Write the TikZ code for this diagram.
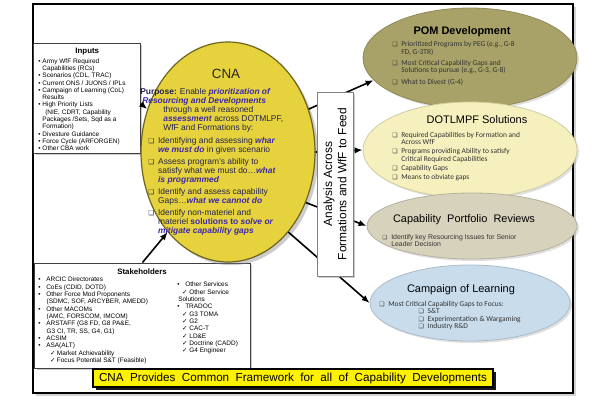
\documentclass[tikz,border=0pt]{standalone}
\usepackage{fontspec}
\setmainfont{Liberation Sans}
\newfontfamily\calfont{Carlito}
\newfontfamily\symfont{DejaVu Sans}
\usepackage{xcolor}
\usepackage{graphicx}
\usetikzlibrary{shapes.geometric, arrows.meta, positioning, shadows}

\definecolor{cnayellow}{RGB}{230,210,60}
\definecolor{cnaedge}{RGB}{110,100,30}
\definecolor{cnatext}{RGB}{35,35,80}
\definecolor{empblue}{RGB}{60,40,170}
\definecolor{pomolive}{RGB}{168,162,104}
\definecolor{dotpale}{RGB}{245,240,190}
\definecolor{cprbeige}{RGB}{215,210,188}
\definecolor{colblue}{RGB}{200,220,236}

\newcommand{\qb}{{\symfont\scalebox{0.8}{\char"2751}}}
\newcommand{\ck}{{\symfont\char"2713}}
\newcommand{\bul}{\makebox[3pt][l]{\textbullet}}
\newcommand{\sbul}{\makebox[5.7pt][l]{\textbullet}}
\newcommand{\emp}[1]{\textcolor{empblue}{\textbf{\textit{#1}}}}

\begin{document}
\begin{tikzpicture}[
    x=0.25mm, y=-0.25mm,
    outline/.style={draw=black, line width=0.5mm, fill=white, drop shadow={shadow xshift=0.7mm, shadow yshift=-0.7mm, opacity=0.35}},
    infobox/.style={rectangle, draw=black!75, fill=white, line width=0.25mm, inner sep=0pt, drop shadow={shadow xshift=0.6mm, shadow yshift=-0.6mm, opacity=0.4}},
    listtext/.style={inner sep=0pt, align=left, font=\fontsize{4.6}{5.2}\selectfont},
    cnaoval/.style={ellipse, draw=cnaedge, line width=0.3mm, fill=cnayellow, inner sep=0pt, minimum width=43.5mm, minimum height=55mm, drop shadow={shadow xshift=0.8mm, shadow yshift=-0.8mm, opacity=0.4}},
    feedoval/.style={ellipse, draw=#1!85!black, line width=0.2mm, fill=#1, inner sep=0pt, drop shadow={shadow xshift=0.5mm, shadow yshift=-0.5mm, opacity=0.25}},
    ovaltitle/.style={inner sep=0pt, font=\fontsize{7.8}{8}\selectfont},
    ovaltext/.style={inner sep=0pt, align=left, text=black!80, font=\calfont\fontsize{5.3}{5.2}\selectfont},
    link/.style={draw=black, line width=0.4mm, -{Latex[length=2mm, width=1.6mm]}},
    banner/.style={rectangle, draw=black, line width=0.3mm, fill=yellow, inner sep=0pt, minimum width=100mm, minimum height=4.5mm, font=\fontsize{8.3}{9}\selectfont, drop shadow={shadow xshift=0.8mm, shadow yshift=-0.8mm, opacity=0.9, fill=black}}
]
    \useasboundingbox (0,0) rectangle (600,400);

    % Outer frame
    \draw [outline] (33,4) rectangle (573,393);

    % Left: Inputs
    \node [infobox, minimum width=26.5mm, minimum height=27.5mm] (inputs) at (87,98) {};
    \node [listtext, anchor=north west] (inputlist) at (38,48) {\makebox[24.5mm]{\fontsize{5.6}{6}\selectfont\textbf{Inputs}}\\[1.5pt]
        \bul Army WfF Required\\
        \hspace*{3pt}Capabilities (RCs)\\
        \bul Scenarios (CDL, TRAC)\\
        \bul Current  ONS / JUONS / IPLs\\
        \bul Campaign of Learning (CoL)\\
        \hspace*{3pt}Results\\
        \bul High Priority Lists\\
        \hspace*{5pt}(NIE, CDRT, Capability\\
        \hspace*{3pt}Packages /Sets, Sqd as a\\
        \hspace*{3pt}Formation)\\
        \bul Divesture Guidance\\
        \bul Force Cycle (ARFORGEN)\\
        \bul Other CBA work};

    % Left: Stakeholders
    \node [infobox, minimum width=53.75mm, minimum height=26.25mm] (stake) at (142.5,315.5) {};
    \node [font=\fontsize{5.6}{6}\selectfont\bfseries, inner sep=0pt] (staketitle) at (142,272) {Stakeholders};
    \node [listtext, anchor=north west] (stakeleft) at (38,277) {\sbul ARCIC Directorates\\
        \sbul CoEs (CDID, DOTD)\\
        \sbul Other Force Mod Proponents\\
        \hspace*{6pt}(SDMC, SOF, ARCYBER, AMEDD)\\
        \sbul Other MACOMs\\
        \hspace*{6pt}(AMC, FORSCOM, IMCOM)\\
        \sbul ARSTAFF (G8 FD, G8 PA\&E,\\
        \hspace*{6pt}G3 CI, TR, SS, G4, G1)\\
        \sbul ACSIM\\
        \sbul ASA(ALT)\\
        \hspace*{8.5pt}\makebox[3.5pt][l]{\ck}\ Market Achievability\\
        \hspace*{8.5pt}\makebox[3.5pt][l]{\ck}\ Focus Potential S\&T (Feasible)};
    \node [listtext, anchor=north west] (stakeright) at (177,282) {\sbul Other Services\\
        \hspace*{3.5pt}\ck\ Other Service\\
        \hspace*{0.7pt}Solutions\\
        \sbul TRADOC\\
        \hspace*{3.5pt}\ck\ G3 TOMA\\
        \hspace*{3.5pt}\ck\ G2\\
        \hspace*{3.5pt}\ck\ CAC-T\\
        \hspace*{3.5pt}\ck\ LD\&E\\
        \hspace*{3.5pt}\ck\ Doctrine (CADD)\\
        \hspace*{3.5pt}\ck\ G4 Engineer};

    % Central CNA
    \node [cnaoval] (cna) at (228,152) {};
    \node [font=\fontsize{9.5}{10}\selectfont, inner sep=0pt, text=black!85] (cnatitle) at (226,74) {CNA};
    \node [inner sep=0pt, anchor=north west, align=left, text=cnatext, font=\fontsize{6}{6.4}\selectfont] (cnabody) at (140,88) {%
        \textbf{Purpose:} Enable \emp{prioritization of}\\
        \hspace*{1.4pt}\emp{Resourcing and Developments}\\
        \hspace*{16.4pt}through a well reasoned\\
        \hspace*{16.4pt}\emp{assessment} across DOTMLPF,\\
        \hspace*{16.4pt}WfF and Formations by:\\[3pt]
        \hspace*{5.7pt}\makebox[7pt][l]{\qb}Identifying and assessing \emp{whar}\\
        \hspace*{12.7pt}\emp{we must do} in given scenario\\[2pt]
        \hspace*{5.7pt}\makebox[7pt][l]{\qb}Assess program's ability to\\
        \hspace*{12.7pt}satisfy what we must do\ldots\emp{what}\\
        \hspace*{12.7pt}\emp{is programmed}\\[2pt]
        \hspace*{5.7pt}\makebox[7pt][l]{\qb}Identify and assess capability\\
        \hspace*{12.7pt}Gaps\ldots\emp{what we cannot do}\\[2pt]
        \hspace*{5.7pt}\makebox[7pt][l]{\qb}Identify non-materiel and\\
        \hspace*{12.7pt}materiel \textcolor{empblue}{\textbf{solutions to \textit{solve or}}}\\
        \hspace*{12.7pt}\emp{mitigate capability gaps}};

    % Right: fed products
    \node [feedoval=pomolive, minimum width=53.5mm, minimum height=25mm] (pom) at (470,58) {};
    \node [feedoval=dotpale, minimum width=53.5mm, minimum height=24mm] (dot) at (470,150) {};
    \node [feedoval=cprbeige, minimum width=52.5mm, minimum height=16.5mm] (cpr) at (472,226) {};
    \node [feedoval=colblue, minimum width=50mm, minimum height=19mm] (col) at (470,303) {};

    \node [ovaltitle, font=\fontsize{7.8}{8}\selectfont\bfseries] (pomtitle) at (462,32) {POM Development};
    \node [ovaltext, anchor=north west] (pomlist) at (392,41) {%
        \makebox[6.4pt][l]{\qb}Prioritized Programs by PEG  (e.g., G-8\\
        \hspace*{6.4pt}FD,  G-3TR)\\[3pt]
        \makebox[6.4pt][l]{\qb}Most Critical Capability Gaps and\\
        \hspace*{6.4pt}Solutions to pursue (e.g., G-3, G-8)\\[3pt]
        \makebox[6.4pt][l]{\qb}What to Divest (G-4)};

    \node [ovaltitle] (dottitle) at (477,120) {DOTLMPF Solutions};
    \node [ovaltext, anchor=north west] (dotlist) at (392,132) {%
        \makebox[6.4pt][l]{\qb}Required Capabilities by Formation and\\
        \hspace*{6.4pt}Across WfF\\[1.2pt]
        \makebox[6.4pt][l]{\qb}Programs providing Ability to satisfy\\
        \hspace*{6.4pt}Critical Required Capabilities\\[1.2pt]
        \makebox[6.4pt][l]{\qb}Capability Gaps\\[1.2pt]
        \makebox[6.4pt][l]{\qb}Means to obviate gaps};

    \node [ovaltitle] (cprtitle) at (464,220) {Capability\ \ Portfolio\ \ Reviews};
    \node [ovaltext, font=\fontsize{4.9}{4.8}\selectfont, anchor=north west] (cprlist) at (382,234) {%
        \makebox[6.4pt][l]{\qb}Identify key Resourcing Issues for Senior\\
        \hspace*{6.4pt}Leader Decision};

    \node [ovaltitle] (coltitle) at (461,290) {Campaign of Learning};
    \node [ovaltext, anchor=north west] (collist) at (379,301) {%
        \makebox[6.4pt][l]{\qb}Most Critical Capability Gaps to Focus:\\
        \hspace*{28pt}\makebox[6.4pt][l]{\qb}S\&T\\
        \hspace*{28pt}\makebox[6.4pt][l]{\qb}Experimentation \& Wargaming\\
        \hspace*{28pt}\makebox[6.4pt][l]{\qb}Industry R\&D};

    % Connections
    \path [link] (inputs.-6) -- (cna.152);
    \path [link] (stake.north) -- (cna.233);
    \path [link] (cna.28) -- (pom.193);
    \path [link] (cna.east) -- (dot.west);
    \path [link] (cna.-33) -- (cpr.west);
    \path [link] (cna.-53) -- (col.west);

    % Analysis box over the links
    \node [infobox, draw=black!50, minimum width=9mm, minimum height=46mm] (analysis) at (335,184) {};
    \node [rotate=90, align=center, inner sep=0pt, font=\fontsize{8.5}{10}\selectfont] (analysistext) at (analysis) {Analysis Across\\Formations and WfF to Feed};

    % Bottom banner
    \node [banner] (banner) at (293,378) {\spaceskip=0.55em CNA Provides Common Framework for all of Capability Developments};

\end{tikzpicture}
\end{document}
